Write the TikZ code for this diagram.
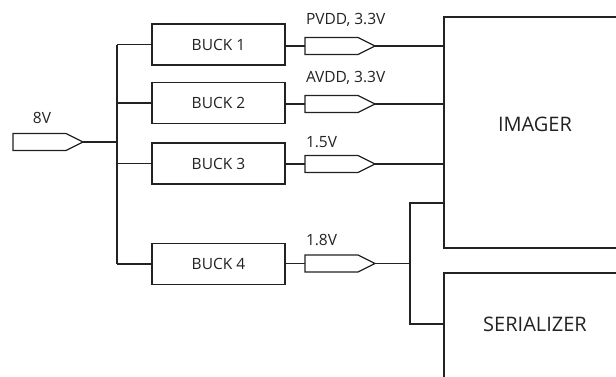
\documentclass[tikz,border=0pt]{standalone}
\usepackage{fontspec}
\setmainfont{Open Sans}
\definecolor{ink}{HTML}{222222}
\newcommand{\railarr}[3]{%
  \coordinate (#1-w) at (#2,#3);
  \coordinate (#1-e) at ({#2+70},#3);
  \draw[line] (#2,{#3-8.5}) -- ({#2+53},{#3-8.5}) -- (#1-e) -- ({#2+53},{#3+8.5}) -- (#2,{#3+8.5}) -- cycle;}
\begin{document}
\begin{tikzpicture}[x=1pt,y=-1pt,
  every node/.style={inner sep=0pt,outer sep=0pt},
  line/.style={draw=ink,line width=1.25pt,line join=miter},
  buckbox/.style={line,rectangle,minimum width=133pt,minimum height=41pt,font=\fontsize{15.5}{17}\selectfont,text=ink},
  lbl/.style={font=\fontsize{15.5}{17}\selectfont,text=ink,anchor=west},
  biglbl/.style={font=\fontsize{20}{22}\selectfont,text=ink,anchor=center},
  bigbox/.style={line,rectangle}]
\useasboundingbox (0,0) rectangle (616,376);
\clip (0,0) rectangle (616,376);
% input
\railarr{vin}{13}{142}
\node[lbl,anchor=center] (vinl) at (42,118) {8V};
\coordinate (bustop) at (117,44.5);
\coordinate (busbot) at (117,264);
\coordinate (busin) at (117,142);
\draw[line] (vin-e) -- (busin);
\draw[line] (bustop) -- (busbot);
% bucks
\node[buckbox] (b1) at (218.5,44.5) {BUCK 1};
\node[buckbox] (b2) at (218.5,103) {BUCK 2};
\node[buckbox] (b3) at (218.5,163.5) {BUCK 3};
\node[buckbox] (b4) at (218.5,264) {BUCK 4};
\draw[line] (bustop) -- (b1.west);
\draw[line] (b2.west -| bustop) -- (b2.west);
\draw[line] (b3.west -| bustop) -- (b3.west);
\draw[line] (busbot) -- (b4.west);
% rails
\railarr{a1}{305}{46}
\railarr{a2}{305}{104}
\railarr{a3}{305}{164}
\railarr{a4}{305}{263.5}
\node[lbl] (l1) at (306,20) {PVDD, 3.3V};
\node[lbl] (l2) at (306,78) {AVDD, 3.3V};
\node[lbl] (l3) at (306,142) {1.5V};
\node[lbl] (l4) at (306,240) {1.8V};
\draw[line] (b1.east |- a1-w) -- (a1-w);
\draw[line] (b2.east |- a2-w) -- (a2-w);
\draw[line] (b3.east |- a3-w) -- (a3-w);
\draw[line] (b4.east |- a4-w) -- (a4-w);
% loads
\node[bigbox,minimum width=186pt,minimum height=231pt] (img) at (537,132.5) {};
\node[bigbox,minimum width=186pt,minimum height=127pt] (ser) at (537,336.5) {};
\node[biglbl] (imgl) at (535,124) {IMAGER};
\node[biglbl] (serl) at (535,324.5) {SERIALIZER};
\draw[line] (a1-e) -- (a1-e -| img.west);
\draw[line] (a2-e) -- (a2-e -| img.west);
\draw[line] (a3-e) -- (a3-e -| img.west);
\coordinate (j4) at (410,263.5);
\draw[line] (a4-e) -- (j4);
\draw[line] (img.west |- 0,203) -- (410,203) -- (410,324) -- (ser.west |- 0,324);
\end{tikzpicture}
\end{document}
